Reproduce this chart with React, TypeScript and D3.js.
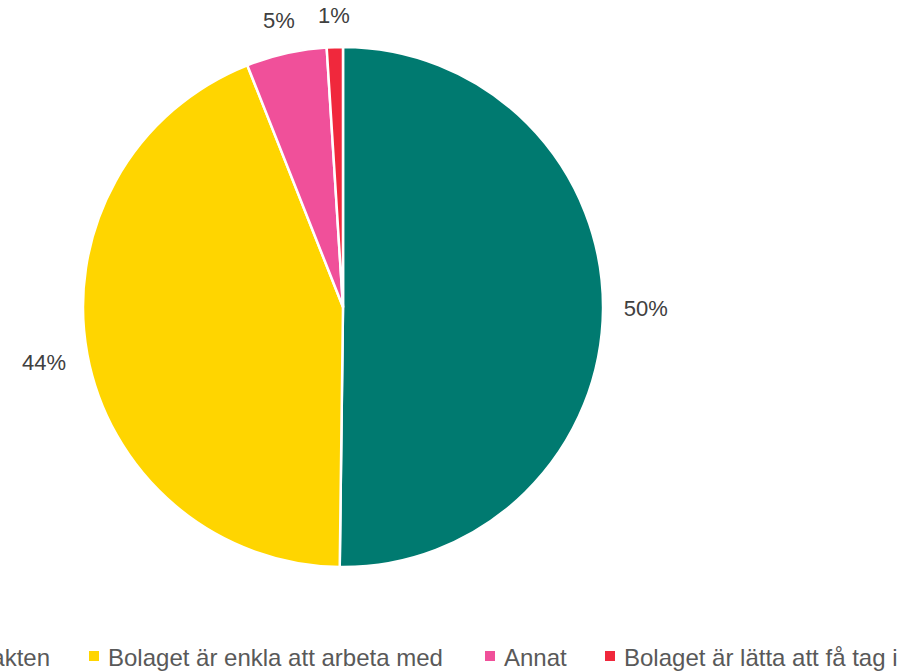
import React from "react";
import * as d3 from "d3";

const categories = [
  "Den personliga kontakten",
  "Bolaget är enkla att arbeta med",
  "Annat",
  "Bolaget är lätta att få tag i",
];
const values = [50.2, 43.8, 5.0, 1.0];
const labels = ["50%", "44%", "5%", "1%"];
const colors = ["#007A70", "#FFD500", "#F0509A", "#F0283C"];

const W = 923;
const H = 672;
const cx = 343;
const cy = 307;
const R = 260;

// legend layout (marker x positions)
const legendMarkerX = [-40, 89, 485, 605];

export default function App() {
  const pie = d3.pie<number>().sort(null).value((d) => d)(values);
  const arc = d3.arc<d3.PieArcDatum<number>>().innerRadius(0).outerRadius(R);
  const font = "'Liberation Sans', Arial, sans-serif";
  const labelFont = 22;
  return (
    <svg width={W} height={H} style={{ position: "absolute", left: 0, top: 0, background: "#fff" }}>
      <g transform={`translate(${cx},${cy})`}>
        {pie.map((p, i) => (
          <path key={i} d={arc(p) || ""} fill={colors[i]} stroke="#fff" strokeWidth={2.5} strokeLinejoin="round" />
        ))}
        {pie.map((p, i) => {
          const a = (p.startAngle + p.endAngle) / 2;
          const s = Math.sin(a);
          const c = -Math.cos(a);
          const halfW = labels[i].length * labelFont * 0.3;
          const halfH = 11;
          const dist = R + 23 + Math.abs(s) * halfW + Math.abs(c) * (halfH - 3);
          return (
            <text key={i} x={s * dist} y={c * dist} textAnchor="middle" dominantBaseline="central" fontFamily={font} fontSize={labelFont} fill="#404040">
              {labels[i]}
            </text>
          );
        })}
      </g>
      <g>
        {categories.map((c, i) => {
          const mx = legendMarkerX[i];
          return (
            <g key={i}>
              {i > 0 && <rect x={mx} y={651} width={10} height={10} fill={colors[i]} />}
              <text
                x={i === 0 ? 50 : mx + 19}
                y={657}
                textAnchor={i === 0 ? "end" : "start"}
                dominantBaseline="central"
                fontFamily={font}
                fontSize={24}
                fill="#595959"
              >
                {c}
              </text>
            </g>
          );
        })}
      </g>
    </svg>
  );
}
